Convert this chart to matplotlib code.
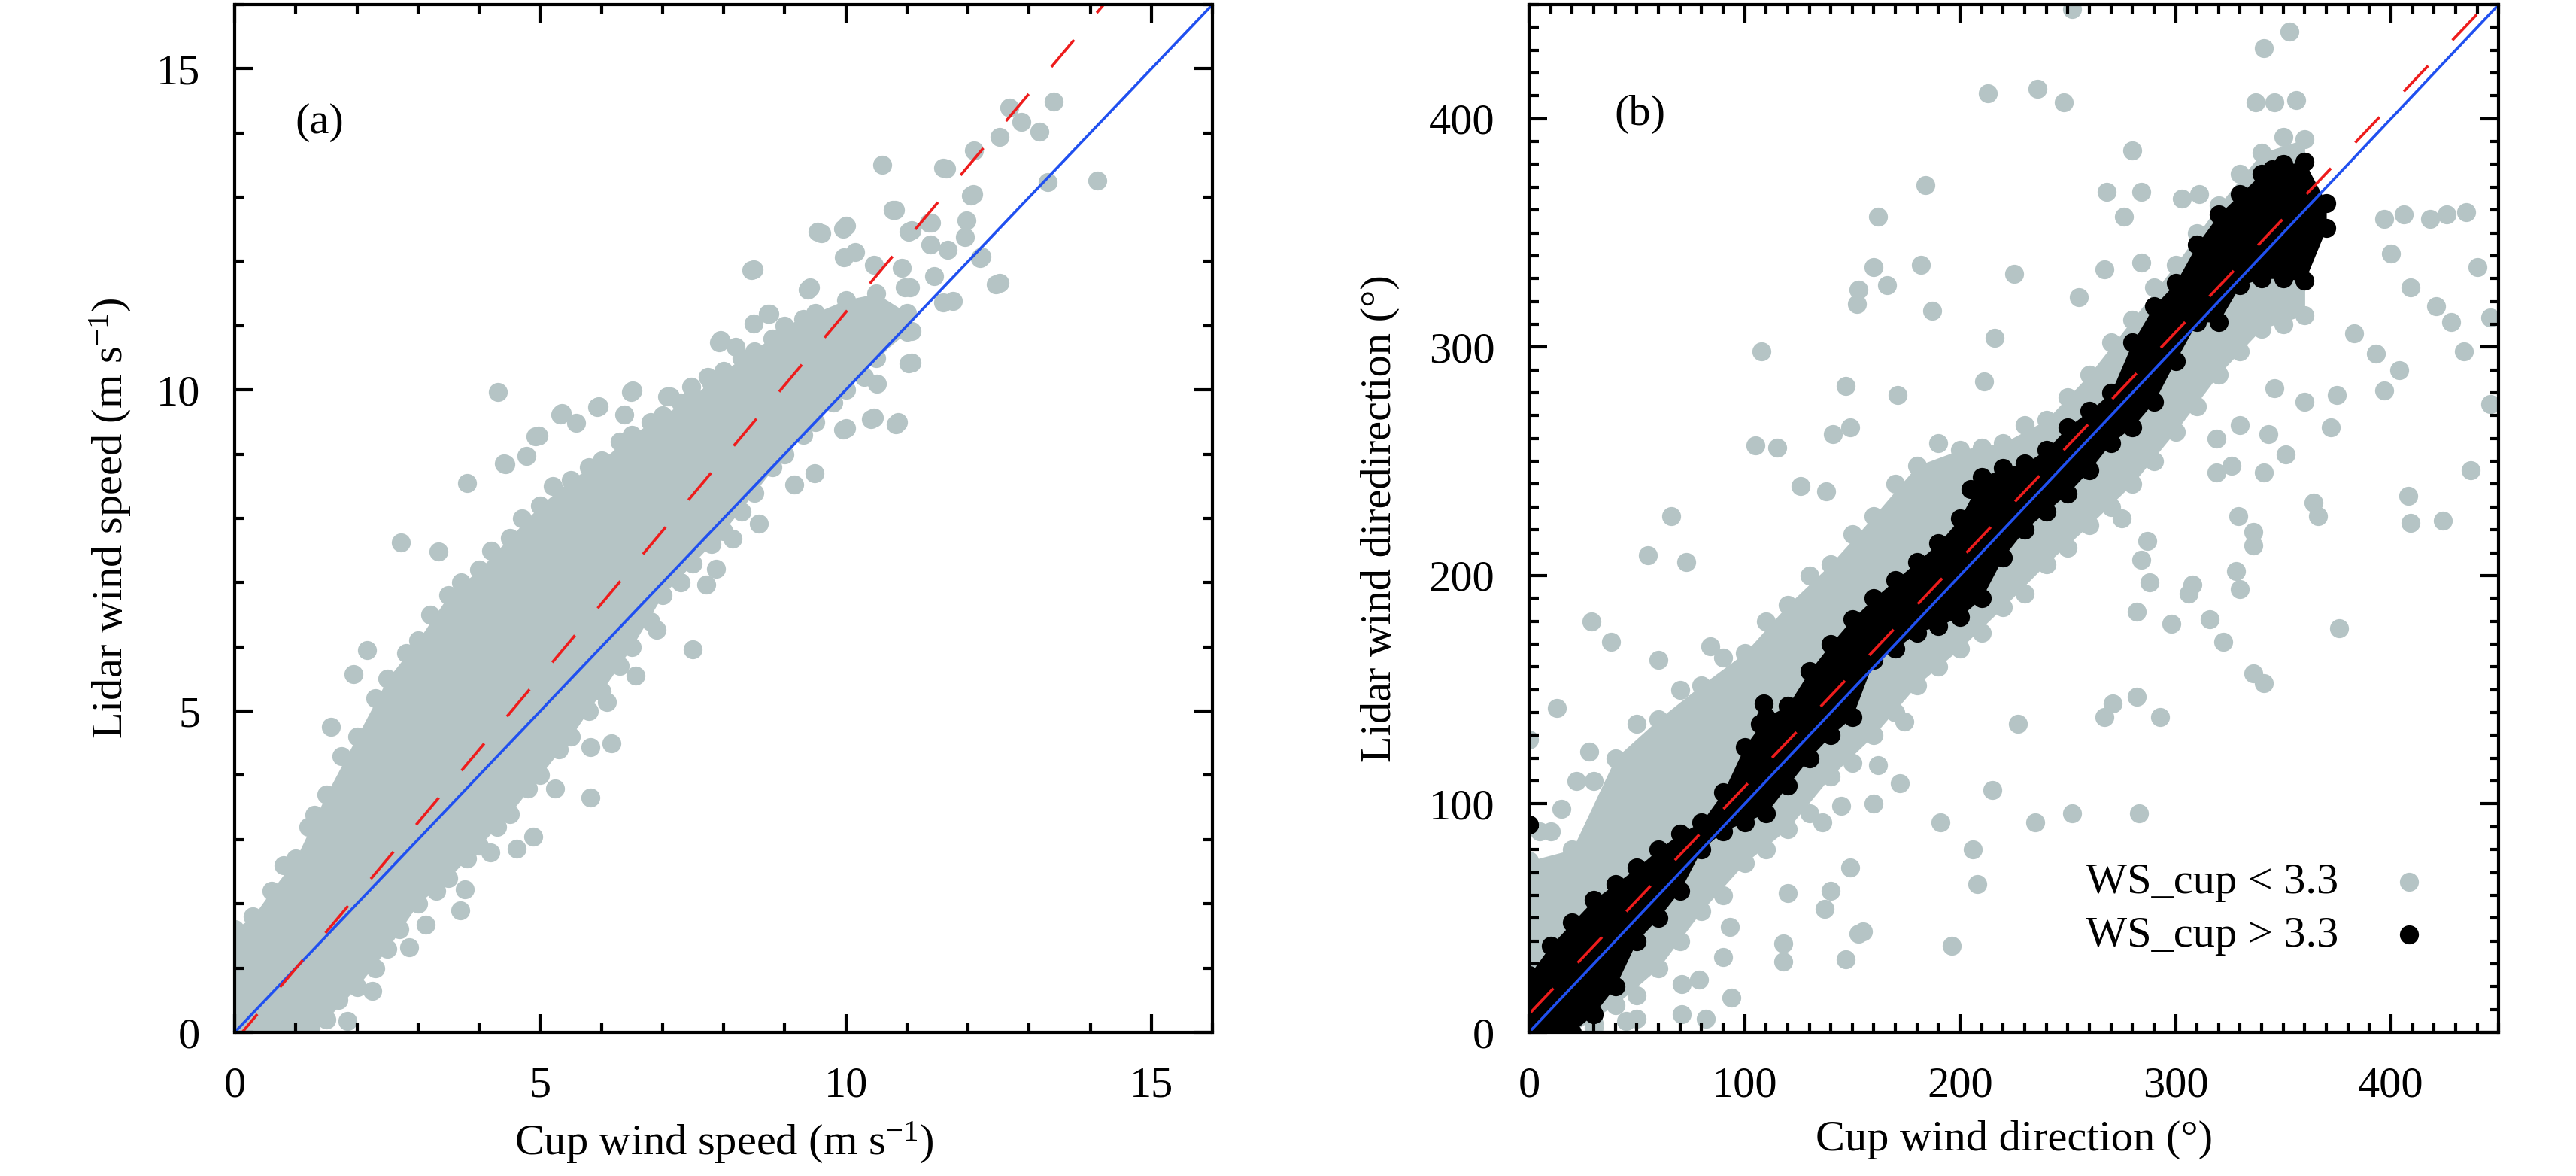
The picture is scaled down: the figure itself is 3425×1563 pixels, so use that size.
import numpy as np
import matplotlib.pyplot as plt
from matplotlib.ticker import MultipleLocator

plt.rcParams['font.family'] = ['Liberation Serif', 'DejaVu Serif']
plt.rcParams['mathtext.fontset'] = 'custom'
plt.rcParams['mathtext.rm'] = 'Liberation Serif'
plt.rcParams['mathtext.it'] = 'Liberation Serif:italic'

# ---- panel (a): wind speed, m/s ----
# dense core of the cloud
ws_core_x = [0.0, 0.3, 0.6, 1.0, 1.5, 2.0, 2.5, 3.0, 3.5, 4.0, 4.5, 5.0,
             5.5, 6.0, 6.5, 7.0, 7.5, 8.0, 8.5, 9.0, 9.5, 10.0, 10.5, 11.0]
ws_core_hi = [1.6, 1.8, 2.2, 2.7, 3.7, 4.6, 5.5, 6.1, 6.8, 7.2, 7.7, 8.2,
              8.6, 8.9, 9.3, 9.6, 9.9, 10.3, 10.6, 11.0, 11.2, 11.4, 11.5, 11.2]
ws_core_lo = [0.0, 0.0, 0.0, 0.0, 0.2, 0.7, 1.3, 2.0, 2.4, 2.9, 3.4, 4.0,
              4.6, 5.3, 6.0, 6.8, 7.3, 7.8, 8.4, 9.0, 9.5, 10.0, 10.5, 10.9]
# points along the ragged edges of the core
ws_edge_x = [0.8, 1.2, 1.75, 2.3, 2.8, 3.2, 3.7, 4.2, 4.7, 5.2, 5.8, 6.3, 6.8,
             7.3, 7.8, 8.3, 8.8, 9.3,
             1.7, 2.3, 2.7, 3.3, 3.8, 4.3, 4.8, 5.3, 5.8, 6.3, 6.8, 7.3, 7.8,
             8.3, 8.8, 9.3, 9.8, 10.3]
ws_edge_y = [2.6, 3.2, 4.3, 5.2, 5.9, 6.5, 7.0, 7.5, 8.0, 8.5, 8.8, 9.2, 9.5,
             9.8, 10.1, 10.5, 10.8, 11.1,
             0.5, 1.0, 1.6, 2.2, 2.7, 3.2, 3.8, 4.4, 5.0, 5.7, 6.4, 7.0, 7.6,
             8.1, 8.8, 9.3, 9.8, 10.2]
# scattered points outside the core
ws_cup = [1.31, 1.58, 1.94, 2.16, 2.72, 3.33, 3.8, 4.31, 4.43, 4.97, 5.35, 5.96,
          6.51, 7.12, 7.95, 8.49, 8.75, 9.42, 9.6, 10.0, 9.97, 10.6, 10.8, 11.08,
          11.4, 11.64, 12.09, 12.1, 12.52, 12.67, 12.87, 13.17, 13.4, 13.3, 14.11,
          12.52, 12.22, 11.75, 11.05, 11.08, 10.85, 10.46, 10.0, 9.49, 9.16, 8.58,
          8.15, 7.87, 7.71, 7.5, 6.9, 6.56, 6.09, 6.16, 5.82, 5.82, 5.24, 4.88,
          4.61, 4.18, 3.77, 3.69, 3.13, 2.86, 2.25, 1.85, 1.24,
          11.59, 12.05, 10.77, 11.03, 11.36, 11.38, 11.98, 11.95, 12.2, 11.67,
          11.44, 11.59, 12.46, 10.97, 9.95, 9.54, 8.46, 10.46, 10.15, 10.92,
          9.38, 8.72, 11.08, 11.03, 10.51, 10.82, 10.41, 9.95, 10.54,
          4.41, 4.77, 4.92, 5.33, 5.59, 5.93, 6.48, 6.38, 7.08, 7.47, 7.93,
          8.49, 7.74, 8.2]
ws_lidar = [3.39, 4.75, 5.57, 5.95, 7.63, 7.48, 8.55, 9.97, 8.84, 9.29, 9.64, 9.74,
            9.99, 9.9, 10.78, 11.88, 11.18, 11.59, 12.44, 12.56, 12.06, 13.5, 12.8, 12.48,
            12.6, 13.45, 13.05, 13.73, 13.94, 14.39, 14.17, 14.02, 14.49, 13.24, 13.26,
            11.67, 12.07, 11.39, 11.6, 10.42, 9.5, 9.57, 9.4, 8.7, 8.53, 7.92,
            7.68, 7.21, 6.97, 5.96, 6.27, 5.55, 5.14, 4.5, 4.44, 3.66, 3.8, 3.04,
            2.86, 2.8, 2.22, 1.9, 1.67, 1.32, 0.64, 0.18, 0.06,
            13.46, 13.03, 12.8, 12.46, 12.6, 12.26, 12.64, 12.38, 12.05, 12.18,
            11.77, 11.36, 11.64, 11.59, 12.51, 12.46, 11.87, 11.95, 12.15, 11.9,
            11.56, 11.18, 10.92, 10.41, 10.1, 9.46, 9.54, 9.38, 10.7,
            8.85, 8.97, 9.28, 9.62, 9.49, 9.73, 9.97, 9.62, 9.9, 10.05, 10.74,
            11.03, 10.2, 10.67]
ws_range = [0, 16]
ws_fit = (1.135, -0.14)          # slope, intercept

# ---- panel (b): wind direction, degrees ----
# WS_cup < 3.3 (grey) dense band
wd_grey_x = [0, 20, 40, 60, 80, 100, 120, 140, 160, 180, 200, 220, 240, 260,
             280, 300, 320, 340, 360]
wd_grey_hi = [75, 80, 120, 137, 152, 166, 187, 205, 226, 248, 255, 258, 268, 288,
              312, 336, 362, 385, 391]
wd_grey_lo = [0, 0, 12, 28, 53, 74, 89, 112, 130, 152, 168, 186, 205, 222,
              240, 263, 288, 308, 314]
wd_grey_cup = [252, 353, 341, 213, 236, 248, 337, 346, 356, 184, 280, 268, 303,
               311, 284, 276, 162, 160, 166, 153, 152, 182, 187, 225, 267, 284,
               255, 216, 108, 147, 211, 171, 141, 149, 105, 115, 126, 138, 66, 55,
               73, 29, 38, 13, 28, 0, 60, 84, 5, 15, 22,
               383, 393, 404, 397, 375, 372, 360, 346, 330, 319, 343, 351, 326,
               341, 319, 364, 366, 329, 336, 336, 328, 308, 306, 330, 288, 284,
               287, 275, 298, 316, 322, 376, 336, 341, 282, 282, 293, 267, 227,
               408, 409, 424, 428, 434, 440, 446, 446, 437, 421, 409, 400, 418,
               426, 435, 406, 397,
               215, 206, 208, 191, 235, 252, 283, 196, 153, 155, 147, 149, 140,
               137, 118, 118, 120, 93, 90, 94, 82, 71, 50, 71, 79, 160, 172, 162,
               174, 271, 145, 136, 30, 45, 10,
               10, 30, 50, 70, 90, 110, 130, 150, 170, 190, 210, 230, 250, 270,
               290, 310, 330, 350,
               30, 50, 70, 90, 110, 130, 150, 170, 190, 210, 230, 250, 270, 290,
               310, 330, 350]
wd_grey_lidar = [448, 438, 431, 411, 413, 407, 407, 407, 408, 371, 386, 368, 365,
                 367, 368, 357, 357, 335, 327, 325, 319, 336, 316, 332, 334, 337,
                 322, 304, 298, 283, 285, 279, 262, 265, 257, 256, 239, 237, 226, 209,
                 206, 180, 171, 142, 123, 128, 163, 169, 88, 98, 110,
                 306, 297, 290, 281, 279, 265, 276, 282, 266, 260, 262, 253, 248,
                 245, 245, 232, 226, 226, 219, 213, 202, 196, 192, 194, 197, 207,
                 215, 225, 179, 181, 171, 177, 157, 153, 184, 147, 138, 138, 135,
                 235, 223, 224, 311, 298, 335, 313, 275, 246, 318, 326, 341, 356,
                 358, 359, 358, 356,
                 106, 80, 65, 92, 92, 96, 96, 38, 43, 44, 32, 72, 62,
                 54, 39, 31, 61, 46, 33, 15, 6, 8, 6, 21, 23, 100, 109, 117,
                 136, 144, 99, 92, 4, 5, 2,
                 88, 110, 135, 150, 164, 180, 200, 218, 240, 258, 256, 266, 278, 302,
                 326, 350, 376, 392,
                 2, 16, 40, 60, 80, 96, 118, 140, 160, 175, 192, 212, 230, 250,
                 274, 298, 310]
# WS_cup > 3.3 (black) band
wd_black_x = [0, 10, 20, 30, 40, 50, 60, 70, 80, 90, 100, 110, 120, 130, 140, 150,
              160, 170, 180, 190, 200, 210, 220, 230, 240, 250, 260, 270, 280, 290,
              300, 310, 320, 330, 340, 350, 360, 370]
wd_black_hi = [25, 38, 48, 58, 65, 72, 80, 87, 92, 105, 125, 138, 143, 158, 170, 181,
               190, 198, 206, 214, 225, 243, 247, 249, 255, 265, 272, 280, 302, 318,
               328, 345, 358, 367, 376, 380, 381, 363]
wd_black_lo = [0, 0, 0, 8, 20, 40, 50, 62, 80, 88, 92, 96, 108, 120, 130, 138,
               163, 168, 175, 178, 182, 190, 208, 220, 228, 236, 246, 258, 265, 276,
               294, 311, 311, 327, 330, 330, 329, 352]
wd_black_cup = [0, 109, 107, 205, 215, 345, 355]
wd_black_lidar = [91, 144, 135, 238, 240, 378, 375]
wd_range = [0, 450]
wd_fit = (0.995, 8.0)

grey = '#b5c4c5'
blue = '#2050f0'
red = '#ee1c1c'
fs = 42
msize = 330

fig = plt.figure(figsize=(34.25, 15.63), dpi=100)
axa = fig.add_axes([0.0911, 0.1222, 0.3796, 0.874])
axb = fig.add_axes([0.5936, 0.1222, 0.3764, 0.874])

# panel a
axa.fill_between(ws_core_x, ws_core_lo, ws_core_hi, color=grey, lw=0, zorder=1)
axa.scatter(ws_core_x, ws_core_hi, s=msize, c=grey, lw=0, zorder=1)
axa.scatter(ws_core_x, ws_core_lo, s=msize, c=grey, lw=0, zorder=1)
axa.scatter(ws_edge_x, ws_edge_y, s=msize, c=grey, lw=0, zorder=1)
axa.scatter(ws_cup, ws_lidar, s=msize, c=grey, lw=0, zorder=1)
xx = np.array(ws_range, dtype=float)
axa.plot(xx, xx, color=blue, lw=2.6, zorder=3)
axa.plot(xx, ws_fit[0] * xx + ws_fit[1], color=red, lw=2.6, dashes=(13, 13), zorder=4)
axa.set_xlim(ws_range)
axa.set_ylim(ws_range)
axa.xaxis.set_major_locator(MultipleLocator(5))
axa.xaxis.set_minor_locator(MultipleLocator(1))
axa.yaxis.set_major_locator(MultipleLocator(5))
axa.yaxis.set_minor_locator(MultipleLocator(1))
axa.set_xlabel(r'Cup wind speed (m s$^{-1}$)', fontsize=fs, labelpad=14)
axa.set_ylabel(r'Lidar wind speed (m s$^{-1}$)', fontsize=fs, labelpad=22)
axa.text(0.087, 0.885, '(a)', transform=axa.transAxes, fontsize=fs,
         ha='center', va='center')

# panel b
axb.fill_between(wd_grey_x, wd_grey_lo, wd_grey_hi, color=grey, lw=0, zorder=1)
axb.scatter(wd_grey_x, wd_grey_hi, s=msize, c=grey, lw=0, zorder=1)
axb.scatter(wd_grey_x, wd_grey_lo, s=msize, c=grey, lw=0, zorder=1)
axb.scatter(wd_grey_cup, wd_grey_lidar, s=msize, c=grey, lw=0, zorder=1,
            label='WS_cup < 3.3')
axb.fill_between(wd_black_x, wd_black_lo, wd_black_hi, color='black', lw=0, zorder=2)
axb.scatter(wd_black_x, wd_black_hi, s=msize, c='black', lw=0, zorder=2)
axb.scatter(wd_black_x, wd_black_lo, s=msize, c='black', lw=0, zorder=2)
axb.scatter(wd_black_cup, wd_black_lidar, s=msize, c='black', lw=0, zorder=2,
            label='WS_cup > 3.3')
xx = np.array(wd_range, dtype=float)
axb.plot(xx, xx, color=blue, lw=2.6, zorder=3)
axb.plot(xx, wd_fit[0] * xx + wd_fit[1], color=red, lw=2.6, dashes=(13, 13), zorder=4)
axb.set_xlim(wd_range)
axb.set_ylim(wd_range)
axb.xaxis.set_major_locator(MultipleLocator(100))
axb.xaxis.set_minor_locator(MultipleLocator(10))
axb.yaxis.set_major_locator(MultipleLocator(100))
axb.yaxis.set_minor_locator(MultipleLocator(10))
axb.set_xlabel('Cup wind direction (°)', fontsize=fs, labelpad=14)
axb.set_ylabel('Lidar wind diredirection (°)', fontsize=fs, labelpad=28)
axb.text(0.114, 0.893, '(b)', transform=axb.transAxes, fontsize=fs,
         ha='center', va='center')
axb.legend(loc='lower right', bbox_to_anchor=(0.93, 0.075), frameon=False,
           markerfirst=False, fontsize=fs, handlelength=1.0, handletextpad=1.1,
           labelspacing=0.3, borderpad=0, borderaxespad=0, scatterpoints=1)

for ax in (axa, axb):
    for sp in ax.spines.values():
        sp.set_linewidth(3)
        sp.set_zorder(5)
    ax.tick_params(which='both', direction='in', top=True, right=True,
                   width=3, labelsize=fs, pad=33)
    ax.tick_params(which='major', length=17)
    ax.tick_params(which='minor', length=9)

fig.savefig('out.png', dpi=100)
